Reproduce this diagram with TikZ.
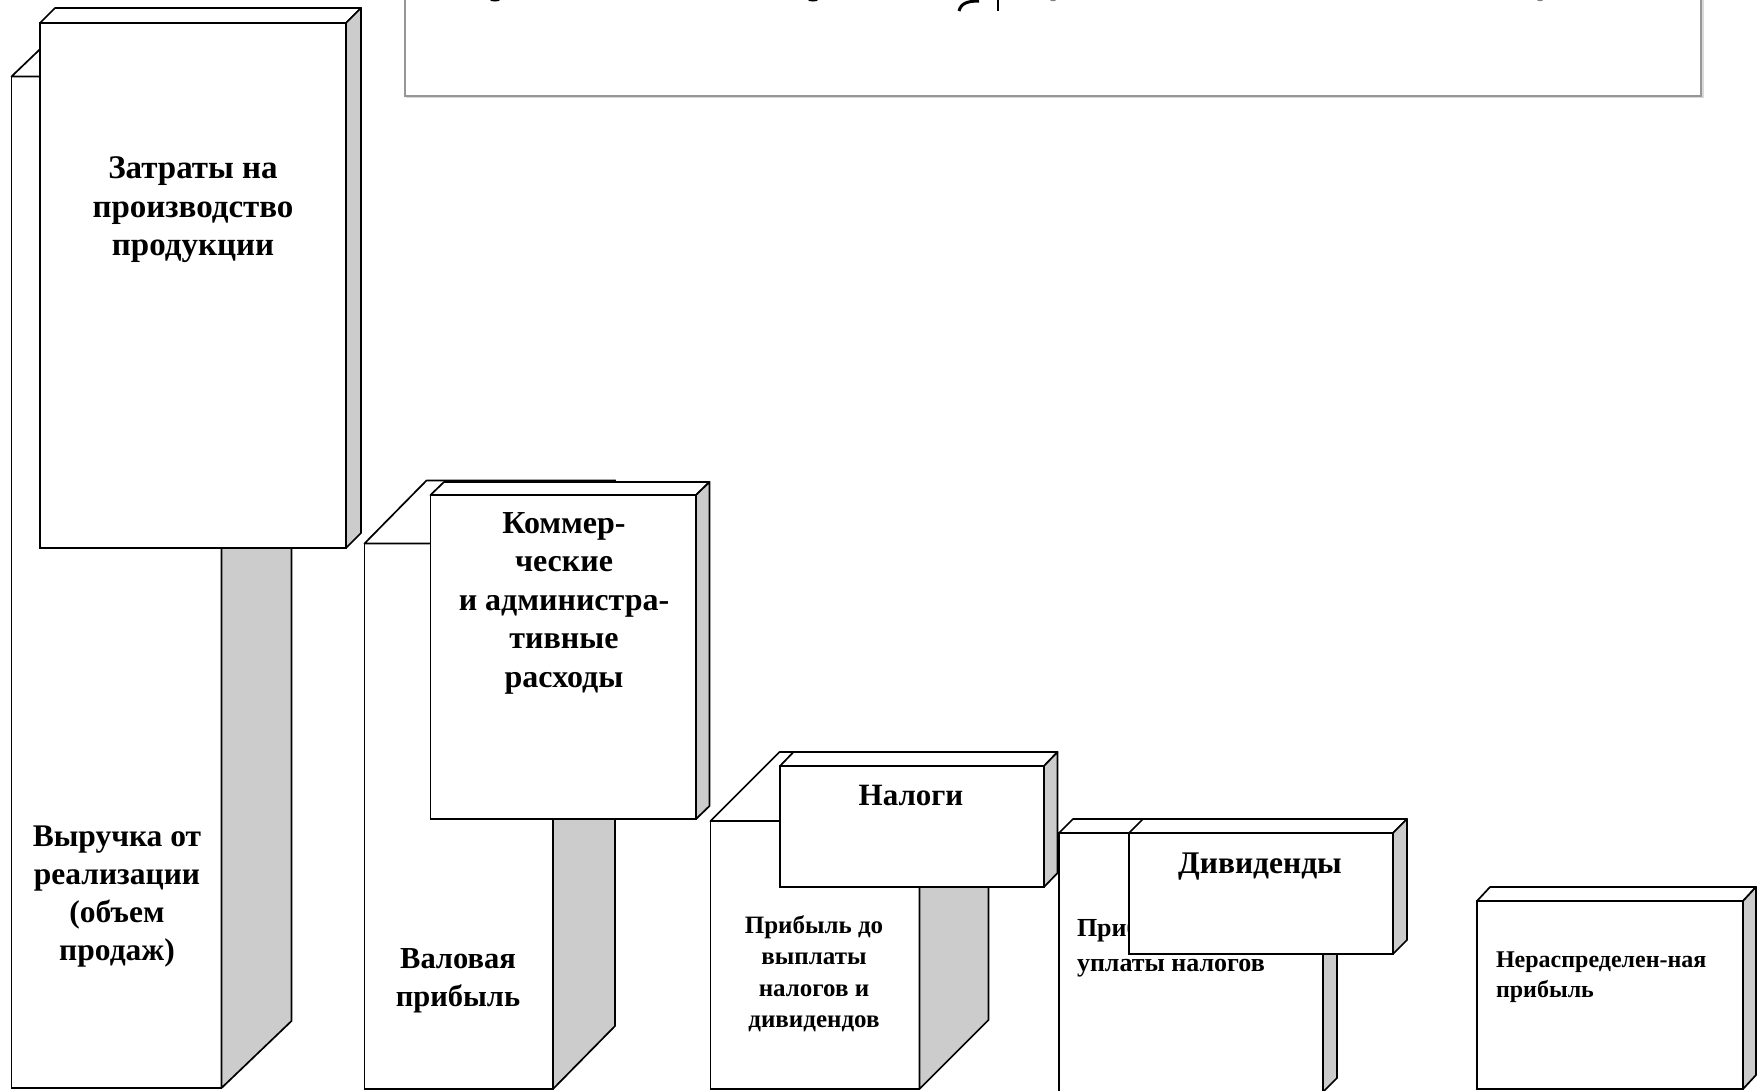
\documentclass[tikz,border=0pt]{standalone}
\usepackage{fontspec}
\setmainfont{Liberation Serif}
\definecolor{sidegray}{RGB}{204,204,204}
\definecolor{framegray}{RGB}{150,150,150}
\tikzset{
  front/.style={draw=black, fill=white, line width=1.7pt, rectangle, inner sep=0pt, outer sep=0pt},
  topface/.style={draw=black, fill=white, line width=1.7pt, line join=round},
  sideface/.style={draw=black, fill=sidegray, line width=1.7pt, line join=round},
  lbl/.style={inner sep=0pt, outer sep=0pt, align=center},
}
% name, x1, y1, x2, y2, dx, dy
\newcommand\tdbox[7]{%
  \node[front, minimum width={#4-#2}, minimum height={#5-#3}, anchor=north west] (#1) at (#2,#3) {};
  \filldraw[topface] (#1.north west) -- ++(#6,#7) -- ([shift={(#6,#7)}]#1.north east) -- (#1.north east) -- cycle;
  \filldraw[sideface] (#1.north east) -- ++(#6,#7) -- ([shift={(#6,#7)}]#1.south east) -- (#1.south east) -- cycle;
}
\begin{document}
\begin{tikzpicture}[x=1pt, y=-1pt]
\useasboundingbox (0,0) rectangle (1762,1090);
\fill[white] (0,0) rectangle (1762,1090);

% top frame (cut off)
\draw[black!15, line width=1.5pt] (407,-20) -- (407,97.5) -- (1703,97.5) -- (1703,-20);
\node[draw=framegray, line width=2pt, fill=white, inner sep=0pt, outer sep=0pt,
      minimum width=1296, minimum height=125, anchor=south west] (frame) at (405,95.5) {};
% glyph fragments peeking in from the cut-off title
\draw[line width=3pt] (959,11) .. controls (961,3) and (968,1) .. (979,1);
\draw[line width=2.5pt] (998,0) -- (998,11);
\fill (495,0) ellipse (5 and 1.5);
\fill (813,0) ellipse (5 and 1.5);
\fill[gray] (1053,0) ellipse (3 and 1.2);
\fill[gray] (1540,0) ellipse (3 and 1.2);

% Выручка (back) and Затраты (front)
\tdbox{vyr}{11.5}{76.5}{221.5}{1088}{70}{-67}
\node[lbl, font={\bfseries\fontsize{31.5}{38}\selectfont}] (vyrt) at (117,897)
  {Выручка от\\реализации\\(объем\\продаж)};
\tdbox{zat}{40}{23}{346}{548}{15}{-15}
\node[lbl, font={\bfseries\fontsize{33}{38.5}\selectfont}] (zatt) at (193,210)
  {Затраты на\\производство\\продукции};

% Валовая (back) and Коммерческие (front)
\tdbox{val}{364.5}{543.5}{553}{1089}{62}{-63}
\node[lbl, font={\bfseries\fontsize{30.5}{38}\selectfont}] (valt) at (458,981)
  {Валовая\\прибыль};
\tdbox{kom}{430.5}{495}{696}{819}{13.5}{-13}
\node[lbl, font={\bfseries\fontsize{32}{38.5}\selectfont}] (komt) at (564,603)
  {Коммер-\\ческие\\и администра-\\тивные\\расходы};

% Прибыль до (back) and Налоги (front)
\tdbox{pdo}{710.5}{821}{919.5}{1089}{69}{-69}
\node[lbl, font={\bfseries\fontsize{25}{31.5}\selectfont}] (pdot) at (814,973.5)
  {Прибыль до\\выплаты\\налогов и\\дивидендов};
\tdbox{nal}{780}{766}{1044}{887}{13.5}{-14}
\node[lbl, font={\bfseries\fontsize{31}{38}\selectfont}] (nalt) at (911,795.5) {Налоги};

% Прибыль после (back) and Дивиденды (front)
\tdbox{ppo}{1059}{833}{1323}{1092}{14}{-14}
\node[lbl, align=left, anchor=west, font={\bfseries\fontsize{26}{34.5}\selectfont}] (ppot) at (1077,947.5)
  {Прибыль после\\уплаты налогов};
\tdbox{div}{1129}{833}{1393}{954}{14}{-14}
\node[lbl, font={\bfseries\fontsize{31.5}{38}\selectfont}] (divt) at (1260,867) {Дивиденды};

% Нераспределенная прибыль
\tdbox{ner}{1477}{901}{1743}{1089}{13}{-14}
\node[lbl, align=left, anchor=west, font={\bfseries\fontsize{24}{30}\selectfont}] (nert) at (1496,977)
  {Нераспределен-ная\\прибыль};
\end{tikzpicture}
\end{document}
